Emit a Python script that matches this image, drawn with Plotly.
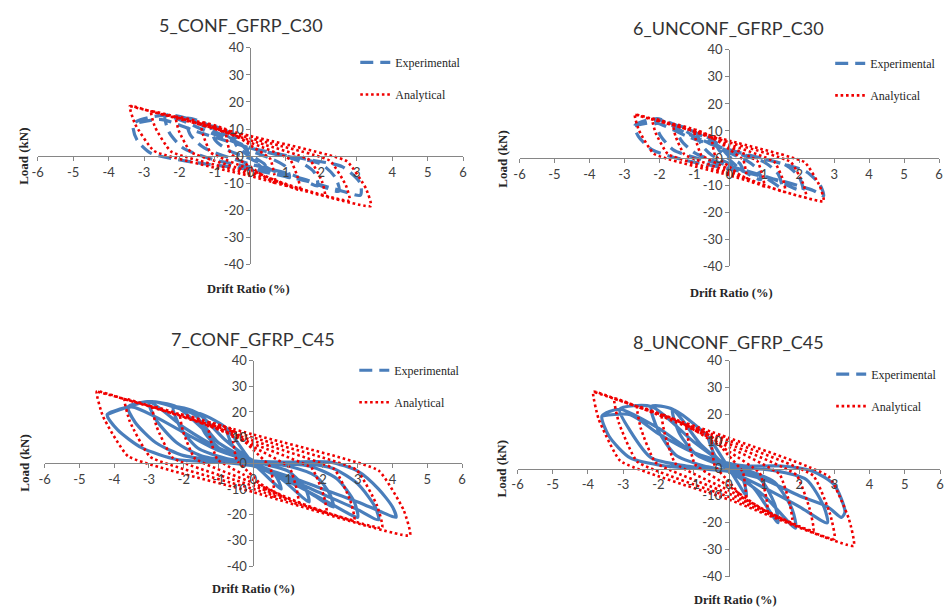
import plotly.graph_objects as go

W, H = 947, 616

titles = ["5_CONF_GFRP_C30", "6_UNCONF_GFRP_C30", "7_CONF_GFRP_C45", "8_UNCONF_GFRP_C45"]
x_ticks = [-6, -5, -4, -3, -2, -1, 0, 1, 2, 3, 4, 5, 6]
y_ticks = [-40, -30, -20, -10, 0, 10, 20, 30, 40]
legend_names = ["Experimental", "Analytical"]

# ---------- 5_CONF_GFRP_C30 ----------
exp5_drift = [-0.5, -0.4, 0, 0.5, 0.4, 0, -0.5,
              -1.1, -1.0, -0.6, 0, 1.1, 1.0, 0.6, 0, -1.1,
              -1.8, -1.7, -1.3, 0, 1.2, 1.9, 1.8, 1.3, 0, -1.0, -1.8,
              -2.4, -2.3, -1.9, -1.0, 0, 1.5, 2.5, 2.4, 2.0, 1.0, 0, -1.2, -2.4,
              -3.3, -3.2, -2.8, -1.5, 0, 1.5, 2.6, 3.1, 3.1, 2.6, 1.5, 0, -1.5, -2.5, -3.3]
exp5_load = [8, 4, -0.5, -6, -3, 0.5, 8,
             11, 6, 2, -1, -8, -4, -1, 2, 11,
             14, 8, 3, -3, -7, -11, -6, -1.5, 3, 9, 14,
             15, 9, 3, -1.5, -4, -8.5, -13, -8, -3, 0, 3, 9, 15,
             12, 6, 1, -2.5, -5, -9, -13, -14.5, -10, -4, -1, 3, 9, 13.5, 12]
ana5_drift = [-0.7, -0.67, -0.56, 0, 0.7, 0.67, 0.56, 0, -0.7,
              -1.4, -1.34, -1.12, 0, 1.4, 1.34, 1.12, 0, -1.4,
              -2.1, -2.02, -1.68, 0, 2.1, 2.02, 1.68, 0, -2.1,
              -2.8, -2.69, -2.24, 0, 2.8, 2.69, 2.24, 0, -2.8,
              -3.4, -3.26, -2.72, 0, 3.4, 3.26, 2.72, 0, -3.4]
ana5_load = [10, 6.5, 1, -4, -10, -6.5, -1, 4, 10,
             12.5, 8.1, 1.3, -5, -12.5, -8.1, -1.3, 5, 12.5,
             14.5, 9.4, 1.5, -5.8, -14.5, -9.4, -1.5, 5.8, 14.5,
             16.5, 10.7, 1.7, -6.6, -16.5, -10.7, -1.7, 6.6, 16.5,
             18.5, 12, 1.9, -7.4, -18.5, -12, -1.9, 7.4, 18.5]

# ---------- 6_UNCONF_GFRP_C30 ----------
exp6_drift = [-0.4, -0.3, 0, 0.4, 0.3, 0, -0.4,
              -0.9, -0.8, -0.5, 0, 0.9, 0.8, 0.5, 0, -0.9,
              -1.5, -1.4, -1.0, 0, 1.0, 1.5, 1.4, 1.0, 0, -1.0, -1.5,
              -2.1, -2.0, -1.6, -0.8, 0, 1.2, 2.1, 2.0, 1.6, 0.8, 0, -1.2, -2.1,
              -2.7, -2.6, -2.2, -1.2, 0, 1.5, 2.4, 2.7, 2.6, 2.2, 1.2, 0, -1.2, -2.1, -2.7]
exp6_load = [6, 3, -0.5, -5, -2, 0.5, 6,
             9, 5, 1, -2, -8, -4, -1, 2, 9,
             12, 7, 2, -3, -7, -11, -6, -1.5, 2.5, 8, 12,
             14.5, 9, 3, -0.5, -3, -7.5, -12, -7, -2.5, 0, 2.5, 9, 14.5,
             12, 8, 3, -1, -4, -8.5, -12, -14, -10, -5, -1, 3, 8, 13, 12]
ana6_drift = [-0.5, -0.48, -0.4, 0, 0.5, 0.48, 0.4, 0, -0.5,
              -1.0, -0.96, -0.8, 0, 1.0, 0.96, 0.8, 0, -1.0,
              -1.6, -1.54, -1.28, 0, 1.6, 1.54, 1.28, 0, -1.6,
              -2.2, -2.11, -1.76, 0, 2.2, 2.11, 1.76, 0, -2.2,
              -2.7, -2.59, -2.16, 0, 2.7, 2.59, 2.16, 0, -2.7]
ana6_load = [8, 5.2, 0.8, -3.2, -8, -5.2, -0.8, 3.2, 8,
             10.5, 6.8, 1.1, -4.2, -10.5, -6.8, -1.1, 4.2, 10.5,
             12.5, 8.1, 1.3, -5, -12.5, -8.1, -1.3, 5, 12.5,
             14.5, 9.4, 1.5, -5.8, -14.5, -9.4, -1.5, 5.8, 14.5,
             16, 10.4, 1.6, -6.4, -16, -10.4, -1.6, 6.4, 16]

# ---------- 7_CONF_GFRP_C45 ----------
exp7_drift = [-0.8, -0.6, 0, 0.8, 0.6, 0, -0.8,
              -1.6, -1.4, -0.9, 0, 0.8, 1.6, 1.5, 1.0, 0, -0.8, -1.6,
              -2.3, -2.1, -1.6, -0.8, 0, 1.0, 1.8, 2.3, 2.2, 1.8, 1.0, 0, -1.0, -1.7, -2.3,
              -3.0, -2.8, -2.2, -1.5, 0, 1.0, 2.0, 2.8, 3.0, 2.9, 2.4, 1.6, 0, -1.0, -2.2, -3.0,
              -3.6, -3.4, -2.8, -2.0, -1.0, 0, 1.0, 2.0, 3.0, 3.6, 3.5, 3.0, 2.3, 1.5, 0, -1.0, -2.0, -3.0, -3.6,
              -4.2, -3.9, -3.2, -2.2, -1.0, 0, 1.0, 2.0, 3.0, 3.7, 4.1, 4.0, 3.6, 3.0, 2.2, 1.0, 0, -1.0, -2.0, -2.8, -3.5, -4.2]
exp7_load = [14, 7, 0, -10, -4, 0, 14,
             19.5, 12, 5, 0, -6, -15, -10, -3, 1, 9, 19.5,
             22, 14, 6, 2, 0, -6, -13, -17, -12, -5, -1, 1, 8, 19, 22,
             24, 17, 8, 3, -1, -7, -14, -20, -21, -15, -6, -1, 1, 8, 22, 24,
             22, 16, 8, 3, 1, -1, -6, -12, -18, -22, -17, -8, -2, 0, 1, 6, 14, 24, 22,
             19, 13, 6, 1.5, 0.5, -1, -5, -10, -15, -19, -21, -17, -10, -3, 0.5, 0.5, 1, 5, 12, 18, 22, 19]
ana7_drift = [-0.6, -0.58, -0.48, 0, 0.6, 0.58, 0.48, 0, -0.6,
              -1.3, -1.25, -1.04, 0, 1.3, 1.25, 1.04, 0, -1.3,
              -2.1, -2.02, -1.68, 0, 2.1, 2.02, 1.68, 0, -2.1,
              -2.9, -2.78, -2.32, 0, 2.9, 2.78, 2.32, 0, -2.9,
              -3.7, -3.55, -2.96, 0, 3.7, 3.55, 2.96, 0, -3.7,
              -4.5, -4.32, -3.6, 0, 4.5, 4.32, 3.6, 0, -4.5]
ana7_load = [13, 8.5, 1.3, -5.2, -13, -8.5, -1.3, 5.2, 13,
             16, 10.4, 1.6, -6.4, -16, -10.4, -1.6, 6.4, 16,
             19, 12.4, 1.9, -7.6, -19, -12.4, -1.9, 7.6, 19,
             22, 14.3, 2.2, -8.8, -22, -14.3, -2.2, 8.8, 22,
             25, 16.3, 2.5, -10, -25, -16.3, -2.5, 10, 25,
             28, 18.2, 2.8, -11.2, -28, -18.2, -2.8, 11.2, 28]

# ---------- 8_UNCONF_GFRP_C45 ----------
exp8_drift = [-0.6, -0.4, 0, 0.5, 0.4, 0, -0.6,
              -1.6, -1.4, -0.9, 0, 0.7, 1.4, 1.3, 0.9, 0, -0.8, -1.6,
              -2.2, -2.0, -1.5, -0.7, 0, 1.0, 1.9, 1.8, 1.3, 0.6, 0, -1.0, -2.2,
              -3.1, -2.8, -2.2, -1.2, 0, 1.0, 2.0, 2.8, 2.7, 2.2, 1.2, 0, -1.0, -2.0, -3.1,
              -3.6, -3.4, -2.8, -1.8, -0.8, 0, 1.0, 2.0, 2.8, 3.2, 3.3, 3.0, 2.4, 1.5, 0.5, 0, -1.0, -2.0, -2.8, -3.6]
exp8_load = [12, 5, 0, -10, -4, 0.5, 12,
             22, 13, 5, 0, -7, -20, -13, -4, 0.5, 9, 22,
             23, 14, 5, 1, -1, -10, -22, -15, -5, -1, 1, 10, 23,
             22, 14, 4, 1, -1, -7, -14, -20, -14, -4, -0.5, 1, 6, 15, 22,
             19.5, 12, 4, 1, 0, -1, -4, -10, -14, -18, -16, -6, -1, 1, 1, 2, 6, 13, 20, 19.5]
ana8_drift = [-0.5, -0.48, -0.4, 0, 0.5, 0.48, 0.4, 0, -0.5,
              -1.2, -1.15, -0.96, 0, 1.1, 1.06, 0.88, 0, -1.2,
              -1.9, -1.82, -1.52, 0, 1.8, 1.73, 1.44, 0, -1.9,
              -2.6, -2.5, -2.08, 0, 2.4, 2.3, 1.92, 0, -2.6,
              -3.25, -3.12, -2.6, 0, 3.0, 2.88, 2.4, 0, -3.25,
              -3.85, -3.7, -3.08, 0, 3.55, 3.41, 2.84, 0, -3.85]
ana8_load = [12, 7.8, 1.2, -4.8, -12, -7.8, -1.2, 4.8, 12,
             16, 10.4, 1.6, -6.4, -16, -10.4, -1.6, 6.4, 16,
             20, 13, 2, -8, -20, -13, -2, 8, 20,
             23, 15, 2.3, -9.2, -23, -15, -2.3, 9.2, 23,
             26, 16.9, 2.6, -10.4, -26, -16.9, -2.6, 10.4, 26,
             28.5, 18.5, 2.9, -11.4, -28.5, -18.5, -2.9, 11.4, 28.5]

exp_data = [(exp5_drift, exp5_load), (exp6_drift, exp6_load), (exp7_drift, exp7_load), (exp8_drift, exp8_load)]
ana_data = [(ana5_drift, ana5_load), (ana6_drift, ana6_load), (ana7_drift, ana7_load), (ana8_drift, ana8_load)]
exp_solid = [False, False, True, True]

# ---------- layout geometry (pixels) ----------
plot_px = [  # x0, x1, ytop, ybottom
    (32, 462, 41, 263),
    (519, 943, 43, 265),
    (39, 461, 362, 573),
    (517, 944, 362, 584),
]
title_px = [(238, 17), (730, 21), (250, 340), (730, 343)]
load_px = [(17, 152), (502, 155), (19, 467), (501, 473)]
drift_px = [(245, 288), (733, 293), (250, 596), (737, 608)]
legend_px = [(395, 52), (875, 53), (394, 368), (876, 372)]

BLUE = "#4A7EBB"
RED = "#F00000"
AXC = "#868686"
TXT = "#404040"
SANS = "Lato, 'Open Sans', sans-serif"
SERIF = "'Liberation Serif', 'Times New Roman', serif"

def px(x):
    return x / W

def py(y):
    return 1 - y / H

fig = go.Figure()
layout = dict(width=W, height=H, margin=dict(l=0, r=0, t=0, b=0),
              paper_bgcolor="white", plot_bgcolor="white", annotations=[])

for i in range(4):
    n = "" if i == 0 else str(i + 1)
    leg = "legend" if i == 0 else "legend" + str(i + 1)
    xa, ya = "x" + n, "y" + n
    x0, x1, yt, yb = plot_px[i]
    xd = [px(x0), px(x1)]
    yd = [py(yb), py(yt)]
    ex, ey = exp_data[i]
    ax_, ay_ = ana_data[i]
    fig.add_trace(go.Scatter(x=ex, y=ey, mode="lines", xaxis=xa, yaxis=ya,
                             line=dict(color=BLUE, width=3.2, shape="spline", smoothing=0.7,
                                       dash="solid" if exp_solid[i] else "13px,7px"),
                             name=legend_names[0], legend=leg, legendgroup="e" + n,
                             showlegend=not exp_solid[i]))
    if exp_solid[i]:
        fig.add_trace(go.Scatter(x=[None], y=[None], mode="lines", xaxis=xa, yaxis=ya,
                                 line=dict(color=BLUE, width=3.2, dash="13px,7px"),
                                 name=legend_names[0], legend=leg, legendgroup="e" + n))
    fig.add_trace(go.Scatter(x=ax_, y=ay_, mode="lines", xaxis=xa, yaxis=ya,
                             line=dict(color=RED, width=2.6, dash="2.6px,2.8px",
                                       shape="spline", smoothing=0.4),
                             name=legend_names[1], legend=leg, legendgroup="a" + n))
    layout["xaxis" + n] = dict(domain=xd, range=[-6, 6], anchor="free",
                               position=(yd[0] + yd[1]) / 2, tickvals=x_ticks,
                               ticktext=[str(v) for v in x_ticks],
                               showgrid=False, zeroline=False, showline=True,
                               linecolor=AXC, linewidth=1, ticks="outside", ticklen=4,
                               tickcolor=AXC, tickfont=dict(family=SANS, size=13, color=TXT),
                               fixedrange=True)
    layout["yaxis" + n] = dict(domain=yd, range=[-40, 40], anchor="free",
                               position=(xd[0] + xd[1]) / 2, tickvals=y_ticks,
                               ticktext=[str(v) for v in y_ticks],
                               showgrid=False, zeroline=False, showline=True,
                               linecolor=AXC, linewidth=1, ticks="outside", ticklen=4,
                               tickcolor=AXC, tickfont=dict(family=SANS, size=13, color=TXT),
                               fixedrange=True)
    lx, ly = legend_px[i]
    layout[leg] = dict(x=px(lx - 42), y=py(ly - 11), xanchor="left", yanchor="top",
                       bgcolor="rgba(0,0,0,0)", traceorder="grouped", tracegroupgap=13,
                       font=dict(family=SERIF, size=12, color="#262626"))
    tx, ty = title_px[i]
    layout["annotations"].append(dict(text=titles[i], x=px(tx), y=py(ty), xref="paper", yref="paper",
                                      showarrow=False, xanchor="center", yanchor="middle",
                                      font=dict(family=SANS, size=18, color="#333333")))
    lx2, ly2 = load_px[i]
    layout["annotations"].append(dict(text="<b>Load (kN)</b>", x=px(lx2), y=py(ly2), xref="paper",
                                      yref="paper", showarrow=False, textangle=-90,
                                      xanchor="center", yanchor="middle",
                                      font=dict(family=SERIF, size=13, color="#262626")))
    dx, dy = drift_px[i]
    layout["annotations"].append(dict(text="<b>Drift Ratio (%)</b>", x=px(dx), y=py(dy), xref="paper",
                                      yref="paper", showarrow=False, xanchor="center", yanchor="middle",
                                      font=dict(family=SERIF, size=12.5, color="#262626")))

fig.update_layout(**layout)
fig.write_html("out.html", post_script="document.body.style.margin='0';")
